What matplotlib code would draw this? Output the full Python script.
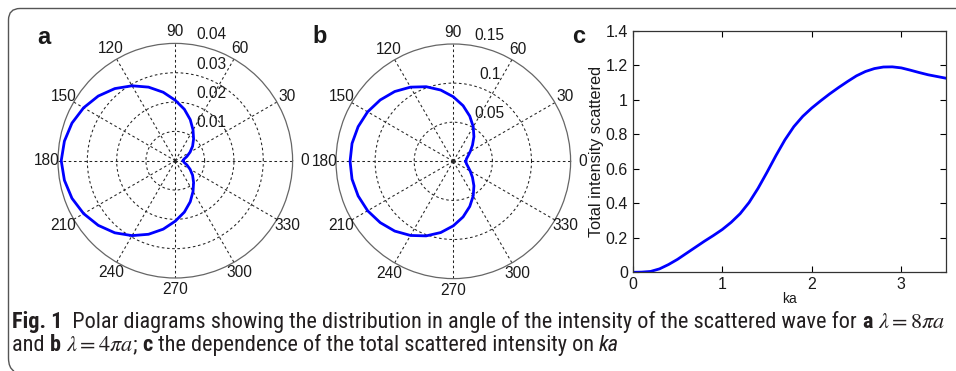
import numpy as np
import matplotlib
matplotlib.use('Agg')
import matplotlib.pyplot as plt
from matplotlib.path import Path
from matplotlib.patches import PathPatch
from matplotlib import font_manager

W, H = 956, 371

# polar intensity, read every 10 deg from 0 to 180 (curves are symmetric about 0/180)
angle_deg = [0, 10, 20, 30, 40, 50, 60, 70, 80, 90,
             100, 110, 120, 130, 140, 150, 160, 170, 180]
intensity_a = [0.0027, 0.0030, 0.0042, 0.0058, 0.0077, 0.0097, 0.0121, 0.0149, 0.0178, 0.0206,
               0.0237, 0.0267, 0.0295, 0.0321, 0.0343, 0.0361, 0.0375, 0.0384, 0.0389]
intensity_b = [0.0160, 0.0170, 0.0200, 0.0250, 0.0320, 0.0410, 0.0510, 0.0615, 0.0722, 0.0825,
               0.0925, 0.1015, 0.1095, 0.1165, 0.1220, 0.1265, 0.1295, 0.1315, 0.1320]
rings_a = [0.01, 0.02, 0.03, 0.04]
rings_b = [0.05, 0.1, 0.15]
angle_ticks = list(range(0, 360, 30))

# total scattered intensity vs ka
ka = [0.0, 0.1, 0.2, 0.3, 0.4, 0.5, 0.6, 0.7, 0.8, 0.9,
      1.0, 1.1, 1.2, 1.3, 1.4, 1.5, 1.6, 1.7, 1.8, 1.9,
      2.0, 2.1, 2.2, 2.3, 2.4, 2.5, 2.6, 2.7, 2.8, 2.9,
      3.0, 3.1, 3.2, 3.3, 3.4, 3.5]
total_intensity = [0.000, 0.001, 0.005, 0.020, 0.045, 0.075, 0.110, 0.145, 0.180, 0.213,
                   0.248, 0.290, 0.340, 0.405, 0.487, 0.580, 0.677, 0.768, 0.845, 0.905,
                   0.953, 0.995, 1.035, 1.072, 1.107, 1.140, 1.165, 1.182, 1.191, 1.192,
                   1.186, 1.173, 1.159, 1.146, 1.136, 1.126]
ka_ticks = [0, 1, 2, 3]
ka_ticklabels = ['0', '1', '2', '3']
total_ticks = [0, 0.2, 0.4, 0.6, 0.8, 1.0, 1.2, 1.4]
total_ticklabels = ['0', '0.2', '0.4', '0.6', '0.8', '1', '1.2', '1.4']

plt.rcParams['font.family'] = ['Liberation Sans', 'DejaVu Sans']
plt.rcParams['mathtext.fontset'] = 'stix'

# caption font: a condensed sans if one is installed
fonts = font_manager.fontManager.ttflist
names = {f.name for f in fonts}
cap_family, cap_stretch = ['Liberation Sans', 'DejaVu Sans'], 'normal'
for nm in ['Liberation Sans Narrow', 'Roboto Condensed', 'Open Sans Condensed',
           'Noto Sans Condensed', 'DejaVu Sans Condensed']:
    if nm in names:
        cap_family = [nm, 'DejaVu Sans']
        break
else:
    for nm in ['Noto Sans', 'Roboto', 'Open Sans', 'DejaVu Sans']:
        if any(f.name == nm and f.stretch in ('condensed', 'semi-condensed', 'extra-condensed')
               for f in fonts):
            cap_family, cap_stretch = [nm, 'DejaVu Sans'], 'condensed'
            break

fig = plt.figure(figsize=(W / 100, H / 100), dpi=100)
BLUE = '#0000ff'
TXT = '#1a1a1a'
FS = 11.2


def polar_panel(cx, cy, values, rings):
    R = 117.3
    ax = fig.add_axes([(cx - R) / W, (H - cy - R) / H, 2 * R / W, 2 * R / H],
                      projection='polar')
    th = np.deg2rad(angle_deg)
    full_th = np.concatenate([th, 2 * np.pi - th[::-1][1:]])
    full_r = np.concatenate([values, values[::-1][1:]])
    rmax = rings[-1]
    ax.set_ylim(0, rmax)
    ax.set_yticks(rings[:-1])
    ax.set_yticklabels([])
    ax.set_xticks(np.deg2rad(angle_ticks))
    ax.set_xticklabels([])
    ax.grid(True, color='#222222', lw=0.75, linestyle=(0, (2.5, 2.5)))
    ax.spines['polar'].set_color('#666666')
    ax.spines['polar'].set_linewidth(0.9)
    ax.plot(full_th, full_r, color=BLUE, lw=2.0, zorder=5)
    for a in angle_ticks:
        ax.text(np.deg2rad(a), rmax * 1.1, str(a), ha='center', va='center',
                fontsize=FS, color=TXT, clip_on=False)
    for r in rings:
        ax.text(0.655, 0.5 + 0.5 * r / rmax + 0.036, f'{r:g}', transform=ax.transAxes,
                ha='center', va='center', fontsize=FS, color=TXT)
    return ax


polar_panel(175.3, 160.7, intensity_a, rings_a)
polar_panel(453.3, 161.3, intensity_b, rings_b)

# panel c
axc = fig.add_axes([632.7 / W, (H - 272.3) / H, (946 - 632.7) / W, (272.3 - 31) / H])
axc.plot(ka, total_intensity, color=BLUE, lw=2.0)
axc.set_xlim(0, 3.5)
axc.set_ylim(0, 1.4)
axc.set_xticks(ka_ticks)
axc.set_xticklabels(ka_ticklabels)
axc.set_yticks(total_ticks)
axc.set_yticklabels(total_ticklabels)
axc.tick_params(direction='in', top=True, right=True, length=4, width=0.8,
                labelsize=11.5, labelcolor=TXT, pad=3.5)
for s in axc.spines.values():
    s.set_color('#333333')
    s.set_linewidth(0.9)
axc.set_xlabel('ka', fontsize=10, color=TXT, labelpad=0)
axc.set_ylabel('Total intensity scattered', fontsize=11.8, color=TXT, labelpad=1)

# panel letters
for letter, x, y in [('a', 44, 37.5), ('b', 319.7, 36.7), ('c', 578.8, 36.7)]:
    fig.text(x / W, 1 - y / H, letter, fontsize=17, fontweight='bold',
             ha='center', va='center', color=TXT)

# frame round the figure (top and left edges with rounded corners)
verts = [(W, 8.5), (20, 8.5), (8.5, 8.5), (8.5, 20), (8.5, 358), (8.5, 368), (14, 371)]
codes = [Path.MOVETO, Path.LINETO, Path.CURVE3, Path.CURVE3, Path.LINETO, Path.CURVE3, Path.CURVE3]
frame = Path([(x / W, 1 - y / H) for x, y in verts], codes)
fig.add_artist(PathPatch(frame, transform=fig.transFigure, fill=False,
                         edgecolor='#555555', lw=1.0))

# caption
line1 = [('Fig. 1', 'bold', 'normal'),
         ('  Polar diagrams showing the distribution in angle of the intensity '
          'of the scattered wave for ', 'normal', 'normal'),
         ('a', 'bold', 'normal'), (' ', 'normal', 'normal'),
         (r'$\lambda = 8\pi a$', 'normal', 'normal')]
line2 = [('and ', 'normal', 'normal'), ('b', 'bold', 'normal'), (' ', 'normal', 'normal'),
         (r'$\lambda = 4\pi a$', 'normal', 'normal'), ('; ', 'normal', 'normal'),
         ('c', 'bold', 'normal'),
         (' the dependence of the total scattered intensity on ', 'normal', 'normal'),
         ('ka', 'normal', 'italic')]

renderer = fig.canvas.get_renderer()


def run_widths(runs, size):
    widths = []
    for s, w, st in runs:
        t = fig.text(0, 0, s, fontsize=size, fontweight=w, fontstyle=st,
                     family=cap_family, fontstretch=cap_stretch)
        widths.append(t.get_window_extent(renderer).width)
        t.remove()
    return widths


size0 = 12
cap_size = size0 * (933 / sum(run_widths(line1, size0)))
for runs, base in [(line1, 328), (line2, 351)]:
    x = 12
    for (s, w, st), wd in zip(runs, run_widths(runs, cap_size)):
        fig.text(x / W, 1 - base / H, s, fontsize=cap_size, fontweight=w, fontstyle=st,
                 family=cap_family, fontstretch=cap_stretch,
                 va='baseline', ha='left', color='#231f20')
        x += wd

fig.savefig('out.png', dpi=100)
